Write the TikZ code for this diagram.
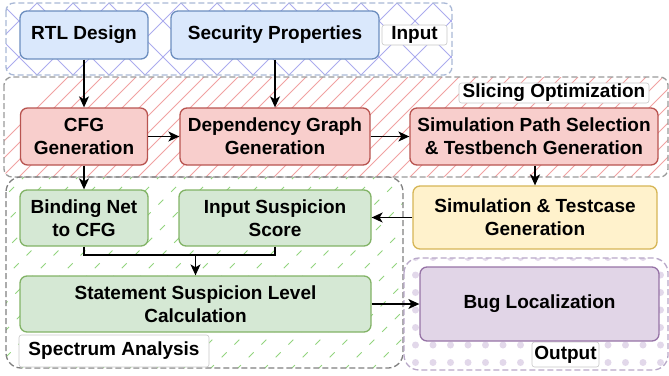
\documentclass[tikz,border=0pt]{standalone}
\usepackage{fontspec}
\setmainfont{Liberation Sans}
\usetikzlibrary{arrows.meta}

% box palette (fill / stroke)
\definecolor{blueF}{HTML}{DAE8FC}\definecolor{blueS}{HTML}{6C8EBF}
\definecolor{redF}{HTML}{F8CECC}\definecolor{redS}{HTML}{B85450}
\definecolor{greenF}{HTML}{D5E8D4}\definecolor{greenS}{HTML}{82B366}
\definecolor{yellowF}{HTML}{FFF2CC}\definecolor{yellowS}{HTML}{D6B656}
\definecolor{purpleF}{HTML}{E1D5E7}\definecolor{purpleS}{HTML}{9673A6}
% group outlines and fill textures
\definecolor{inEdge}{HTML}{A9B8D6}
\definecolor{slEdge}{HTML}{999999}
\definecolor{spEdge}{HTML}{808080}
\definecolor{outEdge}{HTML}{B8A8C8}
\definecolor{hatchBlue}{HTML}{ABABEE}
\definecolor{hatchRed}{HTML}{F0A2A2}
\definecolor{hatchGreen}{HTML}{92D47E}
\definecolor{dotPurple}{HTML}{E2D8EA}
\definecolor{tagEdge}{HTML}{C8C8C8}

\tikzset{
  box/.style={draw, rounded corners=7pt, line width=1.3pt, align=center,
    inner sep=0pt, text=black, font=\bfseries\fontsize{19}{23}\selectfont},
  bluebox/.style={box, fill=blueF, draw=blueS},
  redbox/.style={box, fill=redF, draw=redS},
  greenbox/.style={box, fill=greenF, draw=greenS},
  yellowbox/.style={box, fill=yellowF, draw=yellowS},
  purplebox/.style={box, fill=purpleF, draw=purpleS},
  tag/.style={draw=tagEdge, fill=white, rounded corners=2.5pt, line width=0.6pt,
    inner sep=0pt, text=black, font=\bfseries\fontsize{19}{23}\selectfont},
  grp/.style={dash pattern=on 6pt off 3pt, line width=1.3pt},
  arr/.style={-{Stealth[length=11pt,width=10pt,inset=3pt]}, line width=1.3pt},
  link/.style={line width=1.3pt},
}

\begin{document}
\begin{tikzpicture}[x=1pt, y=-1pt]
\useasboundingbox (0,0) rectangle (669,375);

% ---- group textures ----
% Input: diamond cross-hatch
\begin{scope}
  \clip[rounded corners=8pt] (6,3) rectangle (452,75);
  \foreach \k in {-3,...,14} {
    \draw[hatchBlue, line width=0.8pt] (34+36*\k,0) -- ++(90,90);
  }
  \foreach \k in {0,...,16} {
    \draw[hatchBlue, line width=0.8pt] (4+36*\k,0) -- ++(-90,90);
  }
\end{scope}
% Slicing Optimization: diagonal hatch
\begin{scope}
  \clip[rounded corners=8pt] (4,77) rectangle (668,177);
  \foreach \k in {4,...,50} {
    \draw[hatchRed, line width=0.8pt] (17*\k,77) -- ++(-110,110);
  }
\end{scope}
% Spectrum Analysis: dashed diagonal hatch
\begin{scope}
  \clip[rounded corners=15pt] (6,177) rectangle (403,368);
  \foreach \k in {6,...,30} {
    \draw[hatchGreen, line width=0.9pt, dash pattern=on 7pt off 11pt, dash phase=4pt]
      (12+27*\k-177,177) -- ++(-200,200);
  }
\end{scope}
% Output: dot grid
\begin{scope}
  \clip[rounded corners=15pt] (404,258) rectangle (668,370);
  \foreach \i in {0,...,15} {
    \foreach \j in {0,...,6} {
      \fill[dotPurple] (415.5+17.5*\i, 257.5+17.5*\j) circle (3.5);
    }
  }
\end{scope}

% ---- group outlines ----
\draw[grp, draw=inEdge, rounded corners=8pt] (6,3) rectangle (452,75);
\draw[grp, draw=slEdge, rounded corners=8pt] (4,77) rectangle (668,177);
\draw[grp, draw=spEdge, rounded corners=15pt] (6,177) rectangle (403,368);
\draw[grp, draw=outEdge, rounded corners=15pt] (404,258) rectangle (668,370);

% ---- group captions ----
\node[tag, minimum width=65pt, minimum height=20pt] (inlbl) at (414.5,35) {Input};
\node[tag, minimum width=190pt, minimum height=20pt] (sllbl) at (554,93) {Slicing Optimization};
\node[tag, minimum width=190pt, minimum height=32pt] (splbl) at (114,351) {Spectrum Analysis};
\node[tag, minimum width=67pt, minimum height=25pt] (outlbl) at (565.5,354.5) {Output};

% ---- process boxes ----
\node[bluebox, minimum width=128pt, minimum height=48pt] (rtl) at (84,35) {RTL Design};
\node[bluebox, minimum width=208pt, minimum height=48pt] (sec) at (275,35) {Security Properties};

\node[redbox, minimum width=127pt, minimum height=57pt] (cfg) at (84,136.5) {CFG\\Generation};
\node[redbox, minimum width=190pt, minimum height=57pt] (dep) at (275,136.5) {Dependency Graph\\Generation};
\node[redbox, minimum width=248pt, minimum height=57pt] (simpath) at (534,136.5) {Simulation Path Selection\\\& Testbench Generation};

\node[greenbox, minimum width=128pt, minimum height=56pt] (bind) at (84,218) {Binding Net\\to CFG};
\node[greenbox, minimum width=192pt, minimum height=56pt] (isus) at (275,218) {Input Suspicion\\Score};
\node[greenbox, minimum width=351pt, minimum height=56pt] (stmt) at (195.5,304) {Statement Suspicion Level\\Calculation};

\node[yellowbox, minimum width=244pt, minimum height=63pt] (simtc) at (535,217.5) {Simulation \& Testcase\\Generation};
\node[purplebox, minimum width=239pt, minimum height=74pt] (bug) at (539.5,304) {Bug Localization};

% ---- connectors ----
\coordinate (merge) at (195.5,255);
\draw[arr] (rtl.south) -- (cfg.north);
\draw[arr] (sec.south) -- (dep.north);
\draw[arr] (cfg.east) -- (dep.west);
\draw[arr] (dep.east) -- (simpath.west);
\draw[arr] (cfg.south) -- (bind.north);
\draw[arr] (simpath.south -| simtc.north) -- (simtc.north);
\draw[arr] (simtc.west) -- (isus.east |- simtc.west);
\draw[link] (bind.south) |- (merge);
\draw[link] (isus.south) |- (merge);
\draw[arr] (merge) -- (stmt.north);
\draw[arr] (stmt.east) -- (bug.west);

\end{tikzpicture}
\end{document}
